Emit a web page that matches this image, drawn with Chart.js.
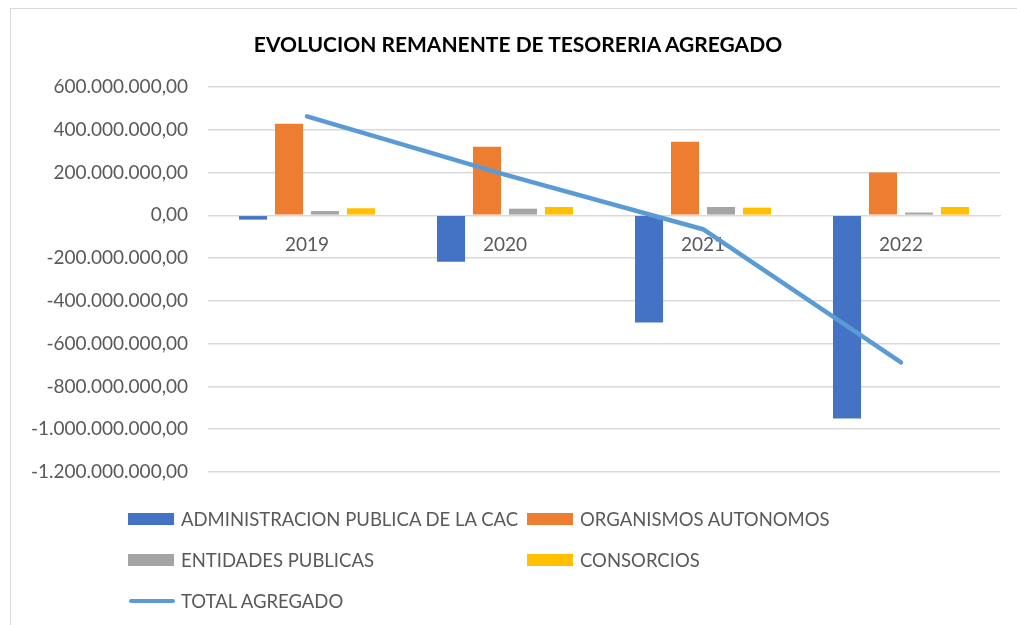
<!DOCTYPE html>
<html>
<head>
<meta charset="utf-8">
<script src="https://cdn.jsdelivr.net/npm/chart.js@4.4.1/dist/chart.umd.min.js"></script>
<style>
  html, body { margin: 0; padding: 0; background: #fff; }
  #wrap { position: relative; width: 1017px; height: 625px; overflow: hidden; }
  #frame { position: absolute; left: 10px; top: 8px; width: 1100px; height: 700px; border-left: 1px solid #d9d9d9; border-top: 1px solid #d9d9d9; }
  canvas { position: absolute; left: 0; top: 0; }
  #title { position: absolute; left: 0; width: 1036px; top: 31px; text-align: center; font-family: Lato, sans-serif; font-weight: bold; font-size: 21px; line-height: 26px; color: #000; white-space: nowrap; }
  .lg { position: absolute; font-family: Lato, sans-serif; font-size: 18.5px; color: #595959; white-space: nowrap; line-height: 20px; }
  .lg .box { position: absolute; left: 0; top: 4px; width: 46px; height: 12px; }
  .lg .ln { position: absolute; left: 1px; top: 8px; width: 46px; height: 4px; border-radius: 2px; }
  .lg .tx { position: absolute; left: 53px; top: 0; }
</style>
</head>
<body>
<div id="wrap">
  <div id="frame"></div>
  <canvas id="c" width="1017" height="625"></canvas>
  <div id="title"></div>
  <div id="legend"></div>
</div>
<script>
const chartTitle = 'EVOLUCION REMANENTE DE TESORERIA AGREGADO';
const categories = ['2019', '2020', '2021', '2022'];
const adminPublica = [-20e6, -217e6, -501e6, -950e6];
const organismos = [428e6, 321e6, 344e6, 200e6];
const entidades = [20e6, 31e6, 39e6, 13e6];
const consorcios = [33e6, 39e6, 36e6, 39e6];
const totalAgregado = [463e6, 190e6, -65e6, -688e6];
const seriesNames = ['ADMINISTRACION PUBLICA DE LA CAC', 'ORGANISMOS AUTONOMOS', 'ENTIDADES PUBLICAS', 'CONSORCIOS', 'TOTAL AGREGADO'];
const colors = ['#4472C4', '#ED7D31', '#A5A5A5', '#FFC000', '#5B9BD5'];

document.getElementById('title').textContent = chartTitle;

function fmt(v) {
  const neg = v < 0;
  let s = Math.round(Math.abs(v)).toString();
  s = s.replace(/\B(?=(\d{3})+(?!\d))/g, '.');
  return (neg ? '-' : '') + s + ',00';
}

const barCommon = { categoryPercentage: 0.727, barPercentage: 0.78, order: 1 };

new Chart(document.getElementById('c'), {
  type: 'bar',
  data: {
    labels: categories,
    datasets: [
      Object.assign({ label: seriesNames[0], data: adminPublica, backgroundColor: colors[0] }, barCommon),
      Object.assign({ label: seriesNames[1], data: organismos, backgroundColor: colors[1] }, barCommon),
      Object.assign({ label: seriesNames[2], data: entidades, backgroundColor: colors[2] }, barCommon),
      Object.assign({ label: seriesNames[3], data: consorcios, backgroundColor: colors[3] }, barCommon),
      { type: 'line', label: seriesNames[4], data: totalAgregado, borderColor: colors[4], backgroundColor: colors[4],
        borderWidth: 4.5, pointRadius: 0, borderCapStyle: 'round', borderJoinStyle: 'round', tension: 0, order: 0 }
    ]
  },
  options: {
    responsive: false,
    animation: false,
    devicePixelRatio: 1,
    layout: { padding: { left: 18, right: 17, top: 87, bottom: 153 } },
    plugins: {
      legend: { display: false },
      tooltip: { enabled: false },
      title: { display: false }
    },
    scales: {
      x: {
        position: { y: 0 },
        grid: { display: false },
        border: { display: true, color: '#d9d9d9', width: 1 },
        ticks: { color: '#595959', font: { family: 'Lato', size: 19 }, padding: 10 }
      },
      y: {
        min: -1200e6,
        max: 600e6,
        ticks: { stepSize: 200e6, color: '#595959', font: { family: 'Lato', size: 19 }, padding: 20, callback: (v) => fmt(v) },
        grid: { color: '#d9d9d9', lineWidth: 1.5, drawTicks: false },
        border: { display: false },
        afterFit: (scale) => { scale.width = 190; }
      }
    }
  }
});

const legendItems = [
  { i: 0, x: 128, y: 509, kind: 'box' },
  { i: 1, x: 527, y: 509, kind: 'box' },
  { i: 2, x: 128, y: 550, kind: 'box' },
  { i: 3, x: 527, y: 550, kind: 'box' },
  { i: 4, x: 128, y: 591, kind: 'line' }
];
const lg = document.getElementById('legend');
legendItems.forEach(it => {
  const d = document.createElement('div');
  d.className = 'lg';
  d.style.left = it.x + 'px';
  d.style.top = it.y + 'px';
  const m = document.createElement('div');
  m.className = it.kind === 'box' ? 'box' : 'ln';
  m.style.background = colors[it.i];
  const t = document.createElement('span');
  t.className = 'tx';
  t.textContent = seriesNames[it.i];
  d.appendChild(m); d.appendChild(t);
  lg.appendChild(d);
});
</script>
</body>
</html>
